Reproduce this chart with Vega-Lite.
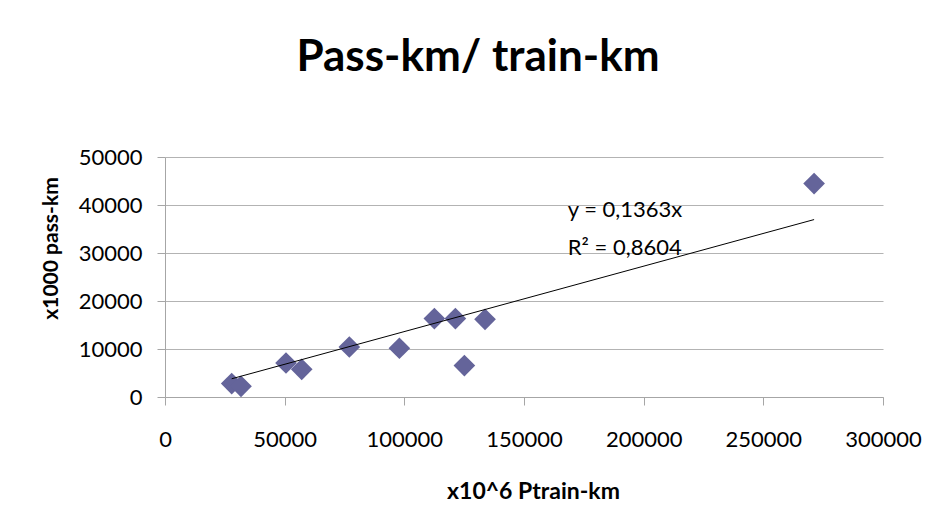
{
  "$schema": "https://vega.github.io/schema/vega-lite/v6.json",
  "width": 718,
  "height": 240,
  "autosize": "none",
  "padding": {"left": 165, "top": 157, "right": 55, "bottom": 127},
  "background": "white",
  "title": {
    "text": "Pass-km/ train-km",
    "font": "Lato",
    "fontSize": 44,
    "fontWeight": "bold",
    "color": "black",
    "anchor": "middle",
    "baseline": "alphabetic",
    "offset": 31,
    "dx": -46
  },
  "config": {
    "view": {"stroke": null},
    "font": "Lato",
    "axis": {
      "labelFont": "Lato",
      "labelFontSize": 22,
      "labelColor": "black",
      "titleFont": "Lato",
      "titleFontSize": 21,
      "titleFontWeight": "bold",
      "titleColor": "black",
      "domainColor": "#a6a6a6",
      "tickColor": "#a6a6a6",
      "gridColor": "#b3b3b3",
      "tickSize": 8
    }
  },
  "layer": [
    {
      "data": {"values": [
        {"x": 27870, "y": 2790},
        {"x": 31760, "y": 2230},
        {"x": 50560, "y": 7080},
        {"x": 57120, "y": 5770},
        {"x": 77020, "y": 10420},
        {"x": 97930, "y": 10150},
        {"x": 112550, "y": 16330},
        {"x": 121330, "y": 16330},
        {"x": 125090, "y": 6540},
        {"x": 133720, "y": 16190},
        {"x": 271210, "y": 44460}
      ]},
      "mark": {"type": "point", "shape": "diamond", "filled": true, "size": 470, "color": "#64649a", "opacity": 1},
      "encoding": {
        "x": {
          "field": "x", "type": "quantitative",
          "scale": {"domain": [0, 300000], "nice": false, "zero": true},
          "axis": {
            "values": [0, 50000, 100000, 150000, 200000, 250000, 300000],
            "format": "d",
            "grid": false,
            "labelPadding": 24,
            "labelBaseline": "top",
            "title": "x10^6 Ptrain-km",
            "titleFontSize": 23,
            "titleX": 368,
            "titleY": 101,
            "titleBaseline": "alphabetic",
            "titleAlign": "center",
            "labelFlush": false,
            "labelOverlap": false
          }
        },
        "y": {
          "field": "y", "type": "quantitative",
          "scale": {"domain": [0, 50000], "nice": false},
          "axis": {
            "values": [0, 10000, 20000, 30000, 40000, 50000],
            "format": "d",
            "grid": true,
            "labelPadding": 15,
            "title": "x1000 pass-km",
            "titleX": -108,
            "titleY": 91,
            "titleAngle": -90,
            "titleBaseline": "alphabetic",
            "titleAlign": "center",
            "labelFlush": false,
            "labelOverlap": false
          }
        }
      }
    },
    {
      "data": {"values": [
        {"x": 27870, "trend": 3799},
        {"x": 271210, "trend": 36966}
      ]},
      "mark": {"type": "line", "color": "black", "strokeWidth": 1},
      "encoding": {
        "x": {"field": "x", "type": "quantitative"},
        "y": {"field": "trend", "type": "quantitative"}
      }
    },
    {
      "data": {"values": [
        {"x": 168280, "y": 37500, "label": "y = 0,1363x"},
        {"x": 168280, "y": 29520, "label": "R² = 0,8604"}
      ]},
      "mark": {"type": "text", "align": "left", "baseline": "alphabetic", "font": "Lato", "fontSize": 22, "color": "black"},
      "encoding": {
        "x": {"field": "x", "type": "quantitative"},
        "y": {"field": "y", "type": "quantitative"},
        "text": {"field": "label"}
      }
    }
  ]
}
